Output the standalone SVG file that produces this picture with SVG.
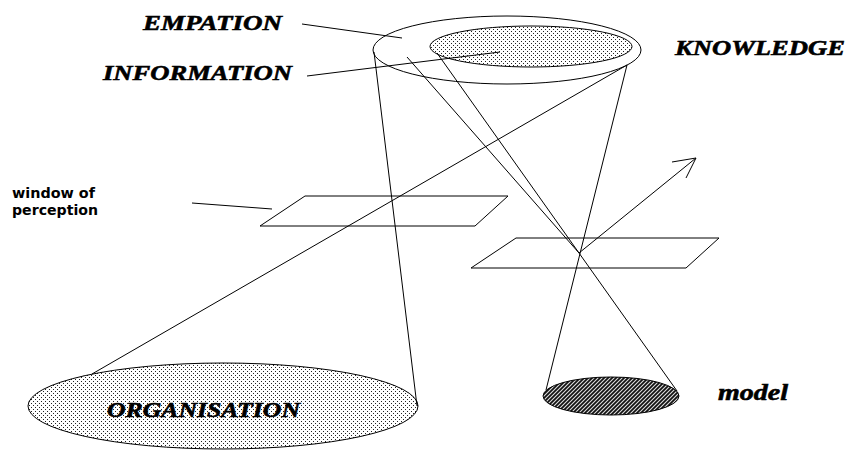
<svg xmlns="http://www.w3.org/2000/svg" width="849" height="452" viewBox="0 0 849 452">
<style>
.ln{fill:none;stroke:#000;stroke-width:1}
.lbl{font-family:"Liberation Serif","Times New Roman",serif;font-weight:bold;font-style:italic;fill:#000;stroke:#000;stroke-width:0.6}
.sans{font-family:"DejaVu Sans","Liberation Sans",sans-serif;font-weight:bold;font-size:14px;fill:#000}
</style>
<defs>
<pattern id="dots" width="4" height="4" patternUnits="userSpaceOnUse">
<rect width="4" height="4" fill="#fff"/>
<rect x="1" y="1" width="1" height="1" fill="#222"/>
<rect x="3" y="3" width="1" height="1" fill="#222"/>
</pattern>
<pattern id="hatch" width="4" height="4" patternUnits="userSpaceOnUse">
<rect width="4" height="4" fill="#111"/>
<path d="M0,4 L4,0 M-1,1 L1,-1 M3,5 L5,3" stroke="#ddd" stroke-width="1.1"/>
</pattern>
</defs>
<rect width="849" height="452" fill="#fff"/>

<g id="organisation">
<ellipse cx="223" cy="406" rx="195" ry="43" fill="url(#dots)" stroke="#000" stroke-width="1"/>
<text class="lbl" x="107" y="417" font-size="22" textLength="193" lengthAdjust="spacingAndGlyphs">ORGANISATION</text>
</g>

<g id="model">
<ellipse cx="611" cy="396" rx="68" ry="19" fill="url(#hatch)" stroke="#000" stroke-width="1"/>
<text class="lbl" x="718" y="400" font-size="24" textLength="70" lengthAdjust="spacingAndGlyphs">model</text>
</g>

<g id="empation">
<ellipse cx="507" cy="50" rx="134" ry="34" class="ln"/>
<text class="lbl" x="143" y="30" font-size="22" textLength="139" lengthAdjust="spacingAndGlyphs">EMPATION</text>
</g>

<g id="information">
<ellipse cx="531" cy="46.5" rx="101" ry="20.5" fill="url(#dots)" stroke="#000" stroke-width="1"/>
<text class="lbl" x="103" y="80" font-size="22" textLength="189" lengthAdjust="spacingAndGlyphs">INFORMATION</text>
</g>

<g id="knowledge">
<text class="lbl" x="675" y="55" font-size="22" textLength="170" lengthAdjust="spacingAndGlyphs">KNOWLEDGE</text>
</g>

<g id="window-left">
<polygon points="305,196 508,196 475,226 260,226" class="ln"/>
<text class="sans" x="12" y="198" textLength="83" lengthAdjust="spacingAndGlyphs">window of</text>
<text class="sans" x="12" y="215" textLength="86" lengthAdjust="spacingAndGlyphs">perception</text>
</g>

<g id="window-right">
<polygon points="516,238 719,238 686,268 471,268" class="ln"/>
</g>

<g id="connectors">
<line class="ln" x1="302" y1="24" x2="402" y2="38"/>
<line class="ln" x1="307" y1="76" x2="500" y2="52"/>
<line class="ln" x1="192" y1="203" x2="272" y2="209"/>
<line class="ln" x1="374" y1="52" x2="417" y2="406"/>
<line class="ln" x1="92" y1="374" x2="627" y2="65"/>
<line class="ln" x1="627" y1="65" x2="546" y2="390"/>
<line class="ln" x1="437" y1="53" x2="677" y2="391"/>
<line class="ln" x1="407" y1="57" x2="579" y2="253"/>
<line class="ln" x1="579" y1="253" x2="696" y2="158"/>
<polyline class="ln" points="672,162 696,158 686,178"/>
</g>
</svg>
